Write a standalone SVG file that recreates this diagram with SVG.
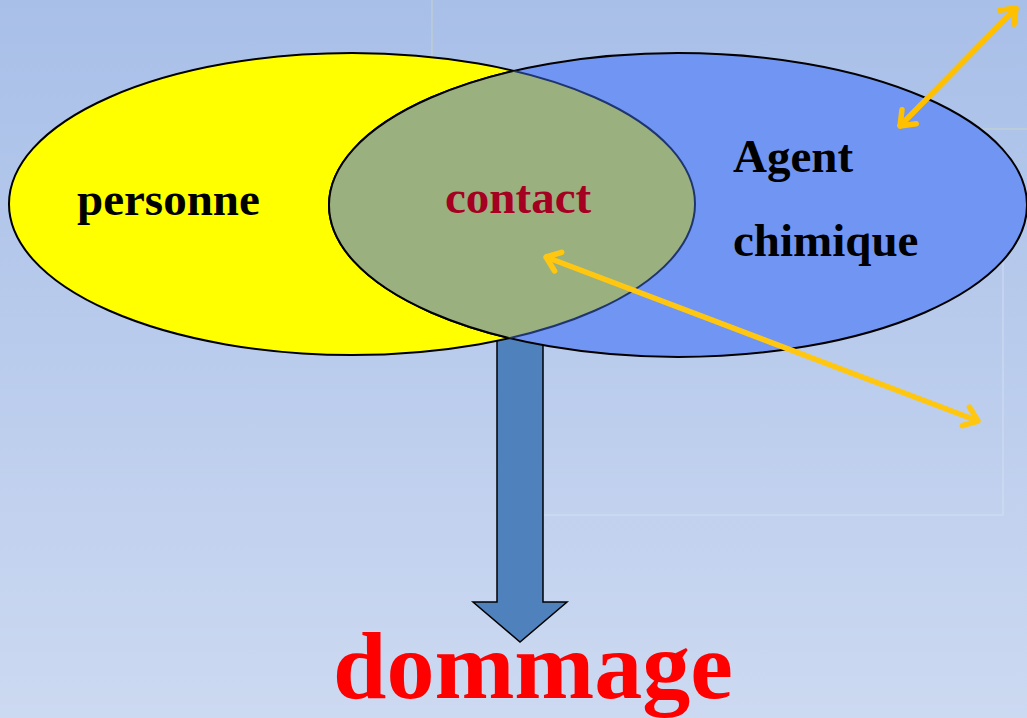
<svg xmlns="http://www.w3.org/2000/svg" width="1027" height="718" viewBox="0 0 1027 718">
<style>
.lbl{font-family:"Liberation Serif","Times New Roman",serif;font-weight:bold}
.orange{fill:none;stroke-width:5.5;stroke-linecap:round}
.faint{fill:none;stroke-width:1}
</style>
<defs>
<linearGradient id="bg" x1="0" y1="0" x2="0" y2="1">
<stop offset="0" stop-color="#A8BFE8"/>
<stop offset="1" stop-color="#CCD9F1"/>
</linearGradient>
<clipPath id="clipY"><ellipse cx="352" cy="204" rx="343" ry="151"/></clipPath>
<clipPath id="clipB"><ellipse cx="678" cy="205" rx="349" ry="152"/></clipPath>
<marker id="chev" viewBox="-16 -13 18 26" markerWidth="18" markerHeight="26" refX="0" refY="0" orient="auto-start-reverse" markerUnits="userSpaceOnUse">
<polyline points="-13,-10 0,0 -13,10" fill="none" stroke="context-stroke" stroke-width="5.5" stroke-linecap="round" stroke-linejoin="round"/>
</marker>
</defs>
<rect width="1027" height="718" fill="url(#bg)"/>
<g id="faint-boxes">
<polyline class="faint" points="432,0 432,129 1027,129" stroke="#D8DFB8" stroke-opacity="0.6"/>
<rect class="faint" x="521" y="163" width="482" height="352" stroke="#DCE6F6" stroke-opacity="0.7"/>
</g>
<g id="connectors">
<path id="down-arrow" d="M497,328 L543,328 L543,602 L567,602 L520,642 L473,602 L497,602 Z" fill="#4F81BD" stroke="#000" stroke-width="1.5" stroke-linejoin="miter"/>
</g>
<g id="personne">
<ellipse cx="352" cy="204" rx="343" ry="151" fill="#FFFF00" stroke="#000" stroke-width="2"/>
<text class="lbl" x="77" y="215" font-size="47" fill="#000">personne</text>
</g>
<g id="agent">
<ellipse cx="678" cy="205" rx="349" ry="152" fill="#7095F2" stroke="#000" stroke-width="2"/>
<text class="lbl" x="733" y="172" font-size="47" fill="#000">Agent</text>
<text class="lbl" x="733" y="256" font-size="47" fill="#000">chimique</text>
</g>
<g id="contact">
<ellipse cx="678" cy="205" rx="349" ry="152" fill="#9BB07F" clip-path="url(#clipY)"/>
<ellipse cx="678" cy="205" rx="349" ry="152" fill="none" stroke="#000" stroke-width="2" clip-path="url(#clipY)"/>
<ellipse cx="352" cy="204" rx="343" ry="151" fill="none" stroke="#1F3570" stroke-width="2" clip-path="url(#clipB)"/>
<text class="lbl" x="445" y="213" font-size="47" fill="#A50021">contact</text>
</g>
<g id="arrows">
<line class="orange" x1="900" y1="126" x2="1016" y2="8" stroke="#FFC000" marker-start="url(#chev)" marker-end="url(#chev)"/>
<line class="orange" x1="546" y1="257" x2="978" y2="421" stroke="#FFC70F" marker-start="url(#chev)" marker-end="url(#chev)"/>
</g>
<g id="dommage">
<text class="lbl" x="333" y="698" font-size="96" fill="#FF0000">dommage</text>
</g>
</svg>
